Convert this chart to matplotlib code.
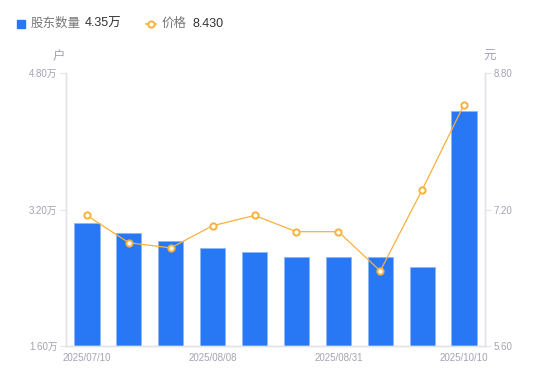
import matplotlib
matplotlib.use('Agg')
import matplotlib.pyplot as plt
from matplotlib.lines import Line2D
from matplotlib.patches import Rectangle

plt.rcParams['font.family'] = ['Liberation Sans', 'Noto Sans CJK SC', 'DejaVu Sans']

# data
dates = ['2025/07/10', '2025/07/18', '2025/07/31', '2025/08/08', '2025/08/15',
         '2025/08/20', '2025/08/31', '2025/09/10', '2025/09/30', '2025/10/10']
holders = [3.04, 2.93, 2.83, 2.75, 2.70, 2.64, 2.64, 2.64, 2.53, 4.35]  # 万户
price = [7.13, 6.81, 6.75, 7.01, 7.13, 6.94, 6.94, 6.48, 7.43, 8.43]
left_ticks = [1.60, 3.20, 4.80]
right_ticks = [5.60, 7.20, 8.80]
shown_dates = [0, 3, 6, 9]

blue = '#2878f5'
orange = '#f8b13c'
grey = '#a3a3b3'
axis_grey = '#e3e3e8'

fig = plt.figure(figsize=(5.5, 3.81), dpi=100)
ax = fig.add_axes([66 / 550, 1 - 346 / 381, 419 / 550, 273 / 381])
ax2 = ax.twinx()

x = list(range(len(dates)))
ax.bar(x, holders, width=0.6, color=blue, edgecolor='#8fb6f7', linewidth=0.6, zorder=2)
ax.set_ylim(left_ticks[0], left_ticks[-1])
ax.set_xlim(-0.5, len(dates) - 0.5)
ax.set_yticks(left_ticks)
ax.set_yticklabels(['{:.2f}万'.format(v) for v in left_ticks])
ax.set_xticks(shown_dates)
ax.set_xticklabels([dates[i] for i in shown_dates])

ax2.plot(x, price, color=orange, linewidth=0.9, marker='o', markersize=4.5,
         markerfacecolor='white', markeredgecolor=orange, markeredgewidth=1.4, zorder=3)
ax2.set_ylim(right_ticks[0], right_ticks[-1])
ax2.set_yticks(right_ticks)
ax2.set_yticklabels(['{:.2f}'.format(v) for v in right_ticks])

for a in (ax, ax2):
    a.spines['top'].set_visible(False)
    for s in ('left', 'right', 'bottom'):
        a.spines[s].set_color(axis_grey)
        a.spines[s].set_linewidth(1.0)
    a.tick_params(axis='y', colors=axis_grey, labelcolor=grey, labelsize=7, length=4, width=0.8, pad=2)
ax.tick_params(axis='x', length=0, labelcolor=grey, labelsize=7, pad=5)
ax2.set_zorder(ax.get_zorder() + 1)
ax2.patch.set_visible(False)

# unit labels
fig.text(59 / 550, 1 - 57 / 381, '户', color=grey, fontsize=9, ha='center', va='center')
fig.text(490 / 550, 1 - 57 / 381, '元', color=grey, fontsize=9, ha='center', va='center')

# legend row
fig.patches.append(Rectangle((17 / 550, 1 - 28 / 381), 8 / 550, 8 / 381,
                             transform=fig.transFigure, color=blue, figure=fig))
fig.text(31 / 550, 1 - 24 / 381, '股东数量', color='#777777', fontsize=9, va='center')
fig.text(85 / 550, 1 - 24 / 381, '{:.2f}万'.format(holders[-1]), color='#333333', fontsize=9, va='center')
fig.lines.append(Line2D([146 / 550, 156 / 550], [1 - 24 / 381, 1 - 24 / 381],
                        transform=fig.transFigure, color=orange, linewidth=1.2, figure=fig))
fig.lines.append(Line2D([151 / 550], [1 - 24 / 381], transform=fig.transFigure,
                        marker='o', markersize=4.5, markerfacecolor='white',
                        markeredgecolor=orange, markeredgewidth=1.4, figure=fig))
fig.text(162 / 550, 1 - 24 / 381, '价格', color='#777777', fontsize=9, va='center')
fig.text(192 / 550, 1 - 24 / 381, '{:.3f}'.format(price[-1]), color='#333333', fontsize=9, va='center')

fig.savefig('out.png', dpi=100)
